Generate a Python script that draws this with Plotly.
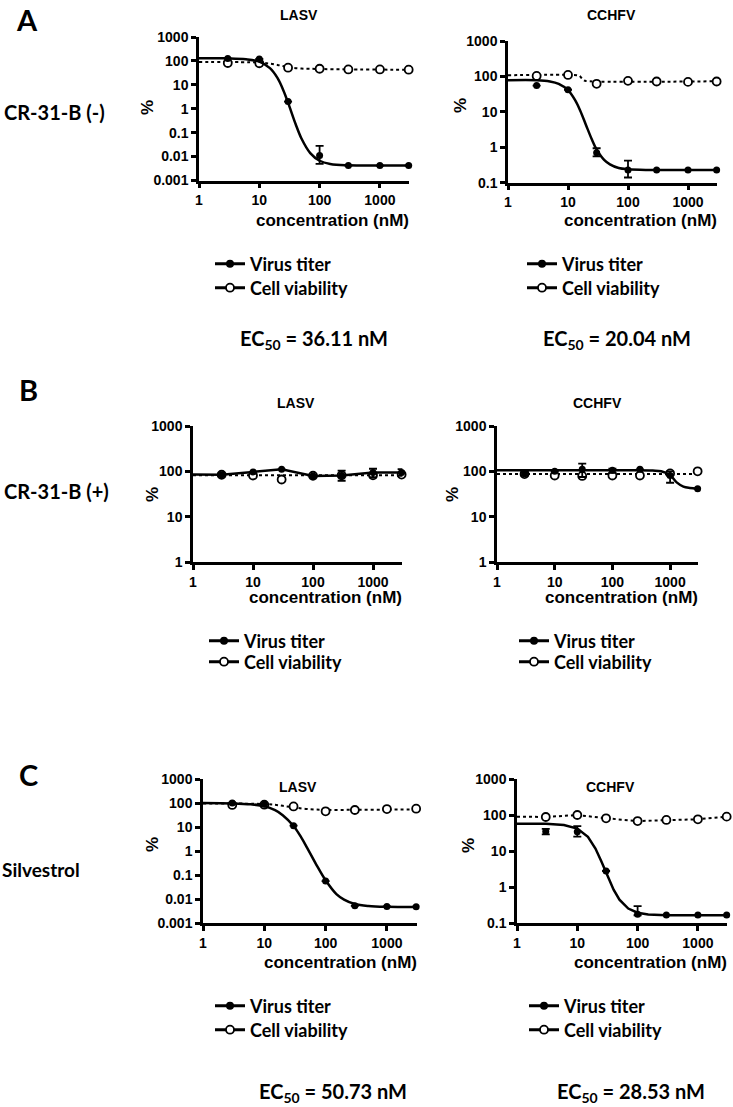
import math
import plotly.graph_objects as go

W, H = 733, 1107

# ---------------- data ----------------
conc = [3, 10, 30, 100, 300, 1000, 3000]

# Panel A – CR-31-B (-) – LASV
a_lasv_virus = [125, 120, 2.0, 0.011, 0.0042, 0.0042, 0.0042]
a_lasv_err_plus = [0, 0, 0, 0.017, 0, 0, 0]
a_lasv_err_minus = [0, 0, 0, 0.006, 0, 0, 0]
a_lasv_viab = [82, 80, 52, 47, 44, 44, 43]
a_lasv_fit_x = [1, 3, 6, 10, 15, 20, 25, 30, 40, 50, 70, 100, 150, 300, 1000, 3000]
a_lasv_fit_virus = [128, 128, 118, 93, 50, 19.5, 6, 1.8, 0.23, 0.057, 0.014, 0.0067, 0.0049, 0.0043, 0.0042, 0.0042]
a_lasv_viabfit_x = [1, 5, 10, 15, 20, 30, 50, 100, 300, 3000]
a_lasv_viabfit = [90, 89, 85, 77, 68, 55, 48, 46, 44, 43]

# Panel A – CCHFV
a_cchfv_virus = [55, 42, 0.7, 0.23, 0.23, 0.23, 0.23]
a_cchfv_err_plus = [0, 0, 0.24, 0.19, 0, 0, 0]
a_cchfv_err_minus = [0, 0, 0.15, 0.09, 0, 0, 0]
a_cchfv_viab = [103, 110, 62, 75, 72, 70, 72]
a_cchfv_fit_x = [1, 3, 5, 7, 10, 13, 16, 20, 25, 30, 40, 50, 70, 100, 200, 3000]
a_cchfv_fit_virus = [78, 78, 72, 61.5, 41, 22, 10.8, 4.2, 1.66, 0.87, 0.44, 0.33, 0.26, 0.24, 0.23, 0.23]
a_cchfv_viabfit_x = [1, 14, 15.5, 17, 18.5, 20, 3000]
a_cchfv_viabfit = [108, 108, 104, 88, 77, 74, 73]

# Panel B – CR-31-B (+) – LASV
b_lasv_virus = [84, 97, 111, 79, 81, 94, 94]
b_lasv_err_plus = [6, 0, 0, 0, 23, 20, 18]
b_lasv_err_minus = [6, 0, 0, 0, 19, 20, 14]
b_lasv_viab = [84, 81, 66, 80, 82, 82, 85]
b_lasv_line_x = [1, 3, 10, 30, 100, 300, 1000, 3000]
b_lasv_line_virus = [85, 84, 97, 111, 79, 81, 94, 94]
b_lasv_viabfit_x = [1, 3000]
b_lasv_viabfit = [82, 82]

# Panel B – CCHFV
b_cchfv_virus = [89, 100, 111, 105, 111, 81, 41.5]
b_cchfv_err_plus = [8, 0, 37, 10, 0, 19, 0]
b_cchfv_err_minus = [8, 0, 36, 12, 0, 25, 0]
b_cchfv_viab = [87, 81, 79, 81, 81, 90, 100]
b_cchfv_fit_x = [1, 100, 500, 700, 1000, 1300, 1700, 2200, 3000]
b_cchfv_fit_virus = [105, 105, 104, 100, 82, 57, 46, 43, 41.5]
b_cchfv_viabfit_x = [1, 3000]
b_cchfv_viabfit = [87, 87]

# Panel C – Silvestrol – LASV
c_lasv_virus = [100, 88, 11.4, 0.056, 0.0052, 0.0049, 0.0048]
c_lasv_err_plus = [0, 0, 0, 0, 0, 0, 0]
c_lasv_err_minus = [0, 0, 0, 0, 0, 0, 0]
c_lasv_viab = [83, 85, 72, 45, 51, 56, 58]
c_lasv_fit_x = [1, 3, 6, 10, 15, 20, 30, 40, 50, 70, 100, 150, 200, 300, 500, 1000, 3000]
c_lasv_fit_virus = [100, 96, 88, 74, 50, 31, 11, 3.7, 1.36, 0.28, 0.06, 0.016, 0.0095, 0.0062, 0.0051, 0.0047, 0.0046]
c_lasv_viabfit_x = [1, 5, 10, 15, 20, 30, 50, 100, 300, 1000, 3000]
c_lasv_viabfit = [95, 94, 90, 84, 76, 66, 56, 52, 52, 53, 54]

# Panel C – CCHFV
c_cchfv_virus = [35, 34, 2.78, 0.174, 0.167, 0.167, 0.167]
c_cchfv_err_plus = [6, 15, 0, 0.12, 0, 0, 0]
c_cchfv_err_minus = [6, 9, 0, 0.01, 0, 0, 0]
c_cchfv_viab = [88, 100, 81, 68, 73, 76, 90]
c_cchfv_fit_x = [1, 3, 6, 10, 15, 20, 25, 30, 40, 50, 70, 100, 150, 300, 3000]
c_cchfv_fit_virus = [57, 57, 53, 42, 24.8, 11.7, 5.2, 2.47, 0.84, 0.446, 0.252, 0.193, 0.172, 0.164, 0.163]
c_cchfv_viabfit_x = [1, 3, 10, 30, 100, 300, 1000, 3000]
c_cchfv_viabfit = [90, 88, 100, 81, 68, 73, 76, 90]

x_tickvals = [1, 10, 100, 1000]
x_ticktext = ["1", "10", "100", "1000"]
y_tick_full = [0.001, 0.01, 0.1, 1, 10, 100, 1000]
y_text_full = ["0.001", "0.01", "0.1", "1", "10", "100", "1000"]

panel_titles = ["LASV", "CCHFV", "LASV", "CCHFV", "LASV", "CCHFV"]
row_letters = ["A", "B", "C"]
row_names = ["CR-31-B (-)", "CR-31-B (+)", "Silvestrol"]
ec50_texts = ["EC<sub>50</sub> = 36.11 nM", "EC<sub>50</sub> = 20.04 nM",
              "EC<sub>50</sub> = 50.73 nM", "EC<sub>50</sub> = 28.53 nM"]
legend_names = ["Virus titer", "Cell viability"]

# ---------------- layout geometry (pixels) ----------------
boxes = [
    dict(x0=199, dec=60.3, yt=37, yb=180.5, ymin=0.001, ymax=1000),
    dict(x0=508, dec=60.0, yt=41, yb=182.7, ymin=0.1, ymax=1000),
    dict(x0=193, dec=60.0, yt=426, yb=562, ymin=1, ymax=1000),
    dict(x0=497, dec=57.7, yt=426, yb=562, ymin=1, ymax=1000),
    dict(x0=203, dec=61.3, yt=779, yb=923, ymin=0.001, ymax=1000),
    dict(x0=517, dec=60.3, yt=779, yb=923, ymin=0.1, ymax=1000),
]
XR = 3.49

panel_data = [
    (a_lasv_virus, a_lasv_err_plus, a_lasv_err_minus, a_lasv_viab, a_lasv_fit_x, a_lasv_fit_virus, a_lasv_viabfit_x, a_lasv_viabfit, "spline"),
    (a_cchfv_virus, a_cchfv_err_plus, a_cchfv_err_minus, a_cchfv_viab, a_cchfv_fit_x, a_cchfv_fit_virus, a_cchfv_viabfit_x, a_cchfv_viabfit, "spline"),
    (b_lasv_virus, b_lasv_err_plus, b_lasv_err_minus, b_lasv_viab, b_lasv_line_x, b_lasv_line_virus, b_lasv_viabfit_x, b_lasv_viabfit, "linear"),
    (b_cchfv_virus, b_cchfv_err_plus, b_cchfv_err_minus, b_cchfv_viab, b_cchfv_fit_x, b_cchfv_fit_virus, b_cchfv_viabfit_x, b_cchfv_viabfit, "spline"),
    (c_lasv_virus, c_lasv_err_plus, c_lasv_err_minus, c_lasv_viab, c_lasv_fit_x, c_lasv_fit_virus, c_lasv_viabfit_x, c_lasv_viabfit, "spline"),
    (c_cchfv_virus, c_cchfv_err_plus, c_cchfv_err_minus, c_cchfv_viab, c_cchfv_fit_x, c_cchfv_fit_virus, c_cchfv_viabfit_x, c_cchfv_viabfit, "linear"),
]

# legend entry positions: (x, y of virus row, y of viability row) in px
legend_pos = [(210, 264, 288), (522, 264, 288), (204, 641, 662), (514, 641, 662),
              (210, 1006, 1030), (524, 1006, 1030)]
title_pos = [(299, 15), (611, 15), (296, 403), (597, 403), (298, 787), (610, 787)]
xtitle_y = [220, 220, 597, 597, 962, 962]
ylabel_pos = [(148, 108), (460, 106), (152, 495), (452, 495), (152, 845), (468, 845)]
ec50_pos = [(314, 339), (617, 339), (333, 1092), (631, 1092)]
letter_pos = [(27, 19), (28, 390), (28, 774)]
rowname_pos = [(2, 112), (2, 491), (0, 870)]


def fx(px):
    return px / W


def fy(py):
    return 1 - py / H


BLACK = "black"
TICKFONT = dict(family="Liberation Sans", size=14, color=BLACK, weight="bold")
TEXTFONT = "Lato"

fig = go.Figure()
annotations = []
layout = dict(
    width=W, height=H, autosize=False,
    margin=dict(l=0, r=0, t=0, b=0, autoexpand=False),
    paper_bgcolor="white", plot_bgcolor="white",
    showlegend=True,
)

leg_idx = 0
for i, (box, pdat) in enumerate(zip(boxes, panel_data)):
    n = i + 1
    sx = "" if n == 1 else str(n)
    xref = "x" + sx
    yref = "y" + sx
    virus, ep, em, viab, fit_x, fit_v, vfit_x, vfit, shape = pdat
    x1 = box["x0"] + box["dec"] * XR
    lo, hi = math.log10(box["ymin"]), math.log10(box["ymax"])
    yt_vals = [v for v in y_tick_full if box["ymin"] <= v <= box["ymax"]]
    yt_text = [t for v, t in zip(y_tick_full, y_text_full) if box["ymin"] <= v <= box["ymax"]]
    axis_common = dict(showline=True, linewidth=2.5, linecolor=BLACK, ticks="outside",
                       ticklen=5, tickwidth=2.5, tickcolor=BLACK, showgrid=False,
                       zeroline=False, tickfont=TICKFONT, type="log")
    layout["xaxis" + sx] = dict(axis_common, domain=[fx(box["x0"]), fx(x1)], range=[0, XR],
                                anchor=yref, tickvals=x_tickvals, ticktext=x_ticktext)
    layout["yaxis" + sx] = dict(axis_common, domain=[fy(box["yb"]), fy(box["yt"])], range=[lo, hi],
                                anchor=xref, tickvals=yt_vals, ticktext=yt_text, ticklabelstandoff=0)

    fig.add_trace(go.Scatter(x=vfit_x, y=vfit, mode="lines", xaxis=xref, yaxis=yref,
                             line=dict(color=BLACK, width=2, dash="dot",
                                       shape="spline" if shape == "spline" and n != 6 else "linear"),
                             showlegend=False, hoverinfo="skip", cliponaxis=False))
    fig.add_trace(go.Scatter(x=conc, y=viab, mode="markers", xaxis=xref, yaxis=yref,
                             marker=dict(symbol="circle", size=8, color="white",
                                         line=dict(color=BLACK, width=1.8)),
                             showlegend=False, cliponaxis=False))
    fig.add_trace(go.Scatter(x=fit_x, y=fit_v, mode="lines", xaxis=xref, yaxis=yref,
                             line=dict(color=BLACK, width=2.5, shape=shape),
                             showlegend=False, hoverinfo="skip", cliponaxis=False))
    fig.add_trace(go.Scatter(x=conc, y=virus, mode="markers", xaxis=xref, yaxis=yref,
                             marker=dict(symbol="circle", size=7, color=BLACK),
                             error_y=dict(type="data", array=ep, arrayminus=em, visible=True,
                                          color=BLACK, thickness=1.8, width=4),
                             showlegend=False, cliponaxis=False))

    lx, ly1, ly2 = legend_pos[i]
    for k, (nm, ly) in enumerate(zip(legend_names, (ly1, ly2))):
        leg_idx += 1
        lg = "legend" if leg_idx == 1 else "legend" + str(leg_idx)
        mk = dict(symbol="circle", size=8, color=BLACK) if k == 0 else \
            dict(symbol="circle", size=8, color="white", line=dict(color=BLACK, width=1.8))
        fig.add_trace(go.Scatter(x=[None], y=[None], mode="lines+markers", name=nm,
                                 xaxis=xref, yaxis=yref, legend=lg,
                                 line=dict(color=BLACK, width=3), marker=mk))
        layout[lg] = dict(x=fx(lx), y=fy(ly), xanchor="left", yanchor="middle",
                          bgcolor="rgba(0,0,0,0)", borderwidth=0,
                          font=dict(family=TEXTFONT, size=18, color=BLACK, weight="bold"),
                          itemclick=False)

    tx, ty = title_pos[i]
    annotations.append(dict(x=fx(tx), y=fy(ty), xref="paper", yref="paper", text=panel_titles[i],
                            showarrow=False, xanchor="center", yanchor="middle",
                            font=dict(family="Liberation Sans", size=14, color=BLACK, weight="bold")))
    annotations.append(dict(x=fx(x1 + 2), y=fy(xtitle_y[i]), xref="paper", yref="paper",
                            text="concentration (nM)", showarrow=False, xanchor="right", yanchor="middle",
                            font=dict(family="Liberation Sans", size=17, color=BLACK, weight="bold")))
    yx, yy = ylabel_pos[i]
    annotations.append(dict(x=fx(yx), y=fy(yy), xref="paper", yref="paper", text="%",
                            showarrow=False, textangle=-90, xanchor="center", yanchor="middle",
                            font=dict(family="Liberation Sans", size=17, color=BLACK, weight="bold")))

for (ex, ey), t in zip(ec50_pos, ec50_texts):
    annotations.append(dict(x=fx(ex), y=fy(ey), xref="paper", yref="paper", text=t,
                            showarrow=False, xanchor="center", yanchor="middle",
                            font=dict(family=TEXTFONT, size=20, color=BLACK, weight="bold")))
for (lx, ly), t in zip(letter_pos, row_letters):
    annotations.append(dict(x=fx(lx), y=fy(ly), xref="paper", yref="paper", text=t,
                            showarrow=False, xanchor="center", yanchor="middle",
                            font=dict(family=TEXTFONT, size=29, color=BLACK, weight="bold")))
for (rx, ry), t in zip(rowname_pos, row_names):
    annotations.append(dict(x=fx(rx), y=fy(ry), xref="paper", yref="paper", text=t,
                            showarrow=False, xanchor="left", yanchor="middle",
                            font=dict(family=TEXTFONT, size=20 if t != "Silvestrol" else 19,
                                      color=BLACK, weight="bold")))

layout["annotations"] = annotations
fig.update_layout(**layout)
fig.write_html("out.html", config={"displayModeBar": False},
               post_script="document.body.style.margin='0';document.body.style.padding='0';"
                           "document.documentElement.style.overflow='hidden';")
